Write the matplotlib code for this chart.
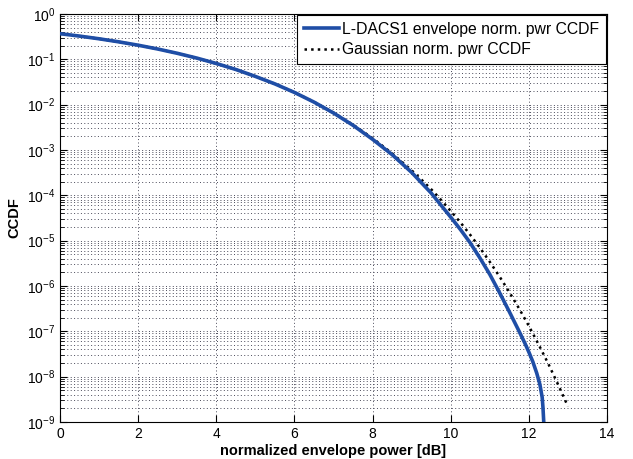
import numpy as np
import matplotlib.pyplot as plt
from matplotlib.ticker import LogLocator, FixedLocator

plt.rcParams['font.family'] = ['Liberation Sans', 'DejaVu Sans']

# values
ldacs_db = [0, 0.5, 1, 1.5, 2, 2.5, 3, 3.5, 4, 4.5, 5, 5.5, 6, 6.5, 7, 7.5,
            8, 8.5, 9, 9.5, 10, 10.25, 10.5, 10.75, 11, 11.25, 11.5, 11.75,
            11.9, 12, 12.1, 12.2, 12.28, 12.34, 12.36, 12.38]
ldacs_ccdf = [0.368, 0.3256, 0.284, 0.2434, 0.205, 0.169, 0.136, 0.1066,
              0.081, 0.0597, 0.042, 0.0287, 0.0186, 0.0114, 6.55e-3, 3.5e-3,
              1.72e-3, 7.9e-4, 3.2e-4, 1.12e-4, 3.3e-5, 1.75e-5, 8.9e-6,
              4.1e-6, 1.8e-6, 7.1e-7, 2.7e-7, 1.0e-7, 5.4e-8, 3.47e-8,
              2.14e-8, 1.2e-8, 6.8e-9, 3.5e-9, 2.1e-9, 1e-9]

gauss_db = [0, 0.5, 1, 1.5, 2, 2.5, 3, 3.5, 4, 4.5, 5, 5.5, 6, 6.5, 7, 7.5,
            8, 8.5, 9, 9.25, 9.5, 9.75, 10, 10.25, 10.5, 10.75, 11, 11.25,
            11.5, 11.75, 12, 12.25, 12.5, 12.75, 13]
gauss_ccdf = [0.368, 0.3256, 0.284, 0.2434, 0.205, 0.169, 0.136, 0.1066,
              0.081, 0.0597, 0.0423, 0.0288, 0.0187, 0.01148, 6.66e-3,
              3.61e-3, 1.82e-3, 8.43e-4, 3.55e-4, 2.22e-4, 1.36e-4, 7.94e-5,
              4.5e-5, 2.51e-5, 1.34e-5, 6.9e-6, 3.4e-6, 1.61e-6, 7.3e-7,
              3.17e-7, 1.31e-7, 5.1e-8, 1.9e-8, 6.6e-9, 2.2e-9]

x_ticks = [0, 2, 4, 6, 8, 10, 12, 14]

fig = plt.figure(figsize=(6.33, 4.59), dpi=100)
ax = fig.add_axes([0.0948, 0.0806, 0.8642, 0.8889])

ax.semilogy(ldacs_db, ldacs_ccdf, color='#1f4ea6', linewidth=2.6,
            label='L-DACS1 envelope norm. pwr CCDF', zorder=3)
ax.semilogy(gauss_db, gauss_ccdf, color='black', linestyle=':', linewidth=1.8,
            label='Gaussian norm. pwr CCDF', zorder=2)

ax.set_xlim(0, 14)
ax.set_ylim(1e-9, 1)
ax.xaxis.set_major_locator(FixedLocator(x_ticks))
ax.yaxis.set_major_locator(LogLocator(base=10, numticks=20))
ax.yaxis.set_minor_locator(LogLocator(base=10, subs=np.arange(2, 10), numticks=20))

grid_style = dict(linestyle=(0, (1, 2.5)), color='#4a4a5a', linewidth=0.7)
ax.grid(True, which='major', axis='both', **grid_style)
ax.grid(True, which='minor', axis='y', **grid_style)

ax.tick_params(which='both', direction='in', top=True, right=True, labelsize=10)
ax.tick_params(which='major', length=5)
ax.tick_params(which='minor', length=3)

ax.set_xlabel('normalized envelope power [dB]', fontsize=10.5, fontweight='bold', labelpad=2)
ax.set_ylabel('CCDF', fontsize=10.5, fontweight='bold')
ax.yaxis.set_label_coords(-0.07, 0.5)

leg = ax.legend(loc='upper right', fontsize=11.3, frameon=True, fancybox=False,
                edgecolor='black', borderaxespad=0.05, handlelength=2.2,
                handletextpad=0.2, borderpad=0.45, labelspacing=0.35,
                framealpha=1)
leg.get_frame().set_linewidth(0.8)

fig.savefig('out.png', dpi=100)
